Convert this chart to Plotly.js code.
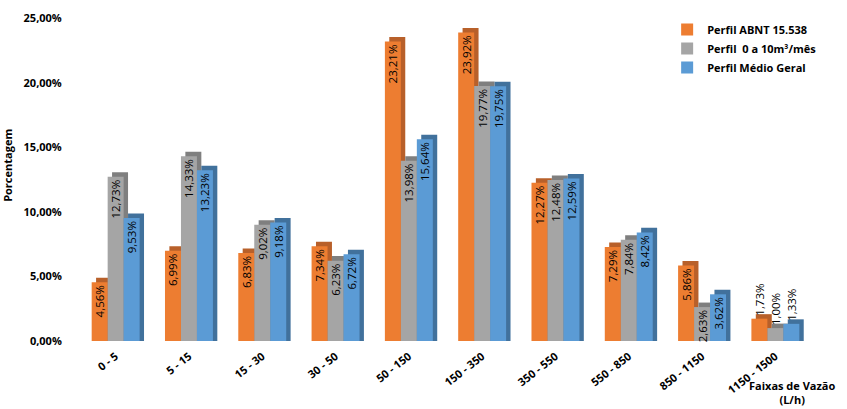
<!DOCTYPE html>
<html>
<head>
<meta charset="utf-8">
<script src="https://cdn.plot.ly/plotly-3.0.1.min.js"></script>
<style>html,body{margin:0;padding:0;background:#fff;}#chart{width:847px;height:409px;}</style>
</head>
<body>
<div id="chart"></div>
<script>
const categories = ["0 - 5","5 - 15","15 - 30","30 - 50","50 - 150","150 - 350","350 - 550","550 - 850","850 - 1150","1150 - 1500"];
const seriesNames = ["Perfil ABNT 15.538","Perfil  0 a 10m³/mês","Perfil Médio Geral"];
const perfilABNT = [4.56, 6.99, 6.83, 7.34, 23.21, 23.92, 12.27, 7.29, 5.86, 1.73];
const perfil0a10 = [12.73, 14.33, 9.02, 6.23, 13.98, 19.77, 12.48, 7.84, 2.63, 1.00];
const perfilMedio = [9.53, 13.23, 9.18, 6.72, 15.64, 19.75, 12.59, 8.42, 3.62, 1.33];
const yTickVals = [0, 5, 10, 15, 20, 25];
const yTickLabels = ["0,00%", "5,00%", "10,00%", "15,00%", "20,00%", "25,00%"];

const FONT = "Open Sans, Noto Sans, Liberation Sans, sans-serif";
const frontColors = ["#ED7D31", "#A5A5A5", "#5B9BD5"];
const sideColors = ["#B8602A", "#7F7F7F", "#41719C"];
const values = [perfilABNT, perfil0a10, perfilMedio];
const xIdx = categories.map((c, i) => i);
const W = 0.218, DX = 0.06, DY = 0.35;
const offsets = [-1.5 * W, -0.5 * W, 0.5 * W];

const traces = [];
values.forEach((v, s) => {
  traces.push({
    type: "bar", x: xIdx, y: v.map(val => val + DY), width: W, offset: offsets[s] + DX,
    marker: {color: sideColors[s]}, showlegend: false, hoverinfo: "skip"
  });
});
values.forEach((v, s) => {
  traces.push({
    type: "bar", name: seriesNames[s], x: xIdx, y: v, width: W, offset: offsets[s],
    marker: {color: frontColors[s]},
    texttemplate: "%{y:.2f}%", textangle: -90,
    textposition: v.map(val => val < 2 ? "outside" : "inside"),
    insidetextanchor: "end", constraintext: "none", cliponaxis: false,
    textfont: {family: FONT, size: 11.5, color: "#000"},
    outsidetextfont: {family: FONT, size: 11.5, color: "#000"},
    hoverinfo: "skip"
  });
});

const layout = {
  width: 847, height: 409,
  margin: {l: 79, r: 13, t: 10, b: 68},
  paper_bgcolor: "#fff", plot_bgcolor: "rgba(0,0,0,0)",
  separators: ",.",
  barmode: "overlay",
  font: {family: FONT, size: 11, color: "#000"},
  showlegend: true,
  legend: {x: 0.779, y: 0.985, xanchor: "left", yanchor: "top", bgcolor: "#fff",
    font: {family: FONT, size: 11, color: "#000", weight: "bold"}, tracegroupgap: 0, itemwidth: 30, traceorder: "normal"},
  xaxis: {
    range: [-0.5, 9.8], tickmode: "array", tickvals: xIdx, ticktext: categories,
    tickangle: -38, showgrid: false, zeroline: false, showline: false,
    ticks: "", ticklabelstandoff: 6,
    tickfont: {family: FONT, size: 11, color: "#000", weight: "bold"}
  },
  yaxis: {
    range: [0, 25.66], tickmode: "array", tickvals: yTickVals, ticktext: yTickLabels,
    showgrid: false, zeroline: false, showline: false,
    ticks: "outside", ticklen: 14, tickcolor: "rgba(0,0,0,0)",
    tickfont: {family: FONT, size: 11, color: "#000", weight: "bold"}
  },
  yaxis2: {
    overlaying: "y", range: [-0.54, 25.12], tickmode: "array", tickvals: yTickVals,
    showgrid: true, gridcolor: "#D9D9D9", gridwidth: 1, zeroline: false, showticklabels: false, showline: false
  },
  annotations: [
    {text: "Porcentagem", xref: "paper", yref: "paper", x: -0.095, y: 0.53, textangle: -90, showarrow: false,
     font: {family: FONT, size: 11, color: "#000", weight: "bold"}, xanchor: "center", yanchor: "middle"},
    {text: "Faixas de Vazão<br>(L/h)", xref: "paper", yref: "paper", x: 0.945, y: -0.105, showarrow: false,
     font: {family: FONT, size: 11, color: "#000", weight: "bold"}, xanchor: "center", yanchor: "top", align: "center"}
  ]
};

Plotly.newPlot("chart", traces, layout, {displayModeBar: false, staticPlot: true});
</script>
</body>
</html>
